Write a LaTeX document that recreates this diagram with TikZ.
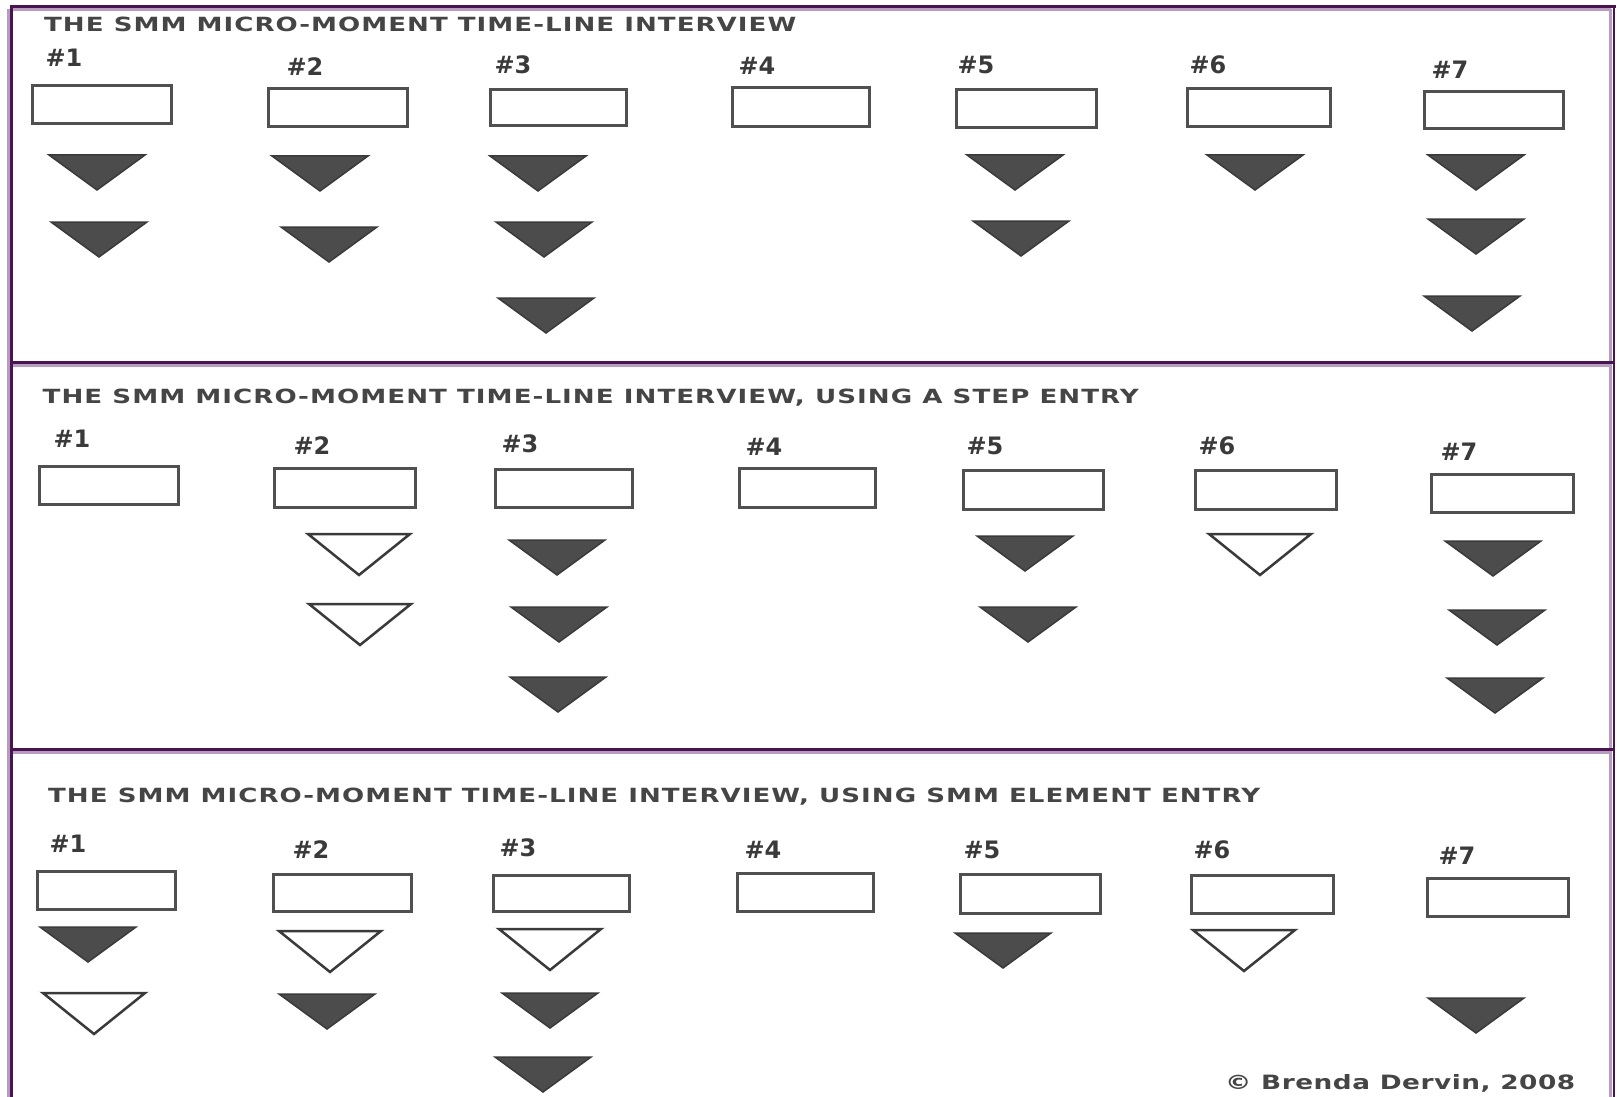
\documentclass[tikz,border=0pt]{standalone}
\usepackage{fontspec}
\usepackage{graphicx}
\setmainfont{DejaVu Sans}
\newfontfamily\titlef[LetterSpace=4]{DejaVu Sans Bold}
\newfontfamily\copyf[LetterSpace=2]{DejaVu Sans Bold}
\definecolor{framedark}{HTML}{4A1450}
\definecolor{framelight}{HTML}{B89CC0}
\definecolor{txtgray}{HTML}{3A3A3A}
\definecolor{ttlgray}{HTML}{454545}
\definecolor{boxgray}{HTML}{505050}
\definecolor{trifill}{HTML}{4C4C4C}
\definecolor{triline}{HTML}{3A3A3A}
\tikzset{
  bx/.style={draw=boxgray, line width=3pt, rectangle, inner sep=0pt, fill=white},
  lbl/.style={text=txtgray, inner sep=0pt, font=\bfseries\fontsize{24}{24}\selectfont},
  ttl/.style={text=ttlgray, inner sep=0pt, anchor=base west},
  ftri/.style={fill=trifill, draw=triline, line width=1.5pt, line join=miter},
  otri/.style={fill=white, draw=triline, line width=2.5pt, line join=miter},
  fdark/.style={draw=framedark, line width=2.8pt},
  flight/.style={draw=framelight, line width=2.5pt}
}
\newcommand\bx[5]{\node[bx, minimum width={(#4-#2-3)*1pt}, minimum height={(#5-#3-3)*1pt}] (#1) at ({(#2+#4)/2},{(#3+#5)/2}) {};}
\newcommand\lb[4]{\node[lbl] (#1) at (#2,#3) {\##4};}
\newcommand\ftri[2]{\filldraw[ftri] ({#1-48},{#2}) -- ({#1+48},{#2}) -- ({#1},{#2+35}) -- cycle;}
\newcommand\otri[2]{\filldraw[otri] ({#1-51},{#2}) -- ({#1+51},{#2}) -- ({#1},{#2+41}) -- cycle;}
\begin{document}
\begin{tikzpicture}[x=1pt,y=-1pt]
\fill[white] (0,0) rectangle (1617,1097);
\useasboundingbox (0,0) rectangle (1617,1097);
% frame
\draw[flight] (8.3,9) -- (8.3,1097);
\draw[flight] (11,9.3) -- (1611,9.3);
\draw[flight] (1610.5,9) -- (1610.5,1097);
\draw[flight] (11,365.5) -- (1611,365.5);
\draw[flight] (11,752.3) -- (1611,752.3);
\draw[fdark] (11.5,6.5) -- (11.5,1097);
\draw[fdark] (10,6.5) -- (1615.5,6.5);
\draw[fdark] (1614,6.5) -- (1614,1097);
\draw[fdark] (10,362.5) -- (1615,362.5);
\draw[fdark] (10,749.5) -- (1615,749.5);
% titles
\node[ttl] (t1) at (44,31.5) {\resizebox{752pt}{14.5pt}{\titlef THE SMM MICRO-MOMENT TIME-LINE INTERVIEW}};
\node[ttl] (t2) at (42.5,403.5) {\resizebox{1096pt}{14.5pt}{\titlef THE SMM MICRO-MOMENT TIME-LINE INTERVIEW, USING A STEP ENTRY}};
\node[ttl] (t3) at (48,802) {\resizebox{1212pt}{14.5pt}{\titlef THE SMM MICRO-MOMENT TIME-LINE INTERVIEW, USING SMM ELEMENT ENTRY}};
\node[ttl] (copy) at (1225,1089) {\resizebox{350pt}{15pt}{\copyf © Brenda Dervin, 2008}};
% panel 1
\lb{a1}{64}{58}{1} \lb{a2}{305}{67}{2} \lb{a3}{513}{65}{3} \lb{a4}{757}{66}{4}
\lb{a5}{976}{65}{5} \lb{a6}{1208}{65}{6} \lb{a7}{1450}{70}{7}
\bx{ab1}{31}{84}{173}{125} \bx{ab2}{267}{87}{409}{128} \bx{ab3}{489}{88}{628}{127}
\bx{ab4}{731}{86}{871}{128} \bx{ab5}{955}{88}{1098}{129} \bx{ab6}{1186}{87}{1332}{128}
\bx{ab7}{1423}{90}{1565}{130}
\ftri{97}{155} \ftri{99}{222}
\ftri{320}{156} \ftri{329}{227}
\ftri{538}{156} \ftri{544}{222} \ftri{546}{298}
\ftri{1015}{155} \ftri{1021}{221}
\ftri{1255}{155}
\ftri{1476}{155} \ftri{1476}{219} \ftri{1472}{296}
% panel 2
\lb{b1}{72}{439}{1} \lb{b2}{312}{446}{2} \lb{b3}{520}{444}{3} \lb{b4}{764}{447}{4}
\lb{b5}{985}{446}{5} \lb{b6}{1217}{446}{6} \lb{b7}{1459}{452}{7}
\bx{bb1}{38}{465}{180}{506} \bx{bb2}{273}{467}{417}{509} \bx{bb3}{494}{468}{634}{509}
\bx{bb4}{738}{467}{877}{509} \bx{bb5}{962}{469}{1105}{511} \bx{bb6}{1194}{469}{1338}{511}
\bx{bb7}{1430}{473}{1575}{514}
\otri{359}{534} \otri{360}{604}
\ftri{557}{540} \ftri{559}{607} \ftri{558}{677}
\ftri{1025}{536} \ftri{1028}{607}
\otri{1260}{534}
\ftri{1493}{541} \ftri{1497}{610} \ftri{1495}{678}
% panel 3
\lb{c1}{68}{844}{1} \lb{c2}{311}{850}{2} \lb{c3}{518}{848}{3} \lb{c4}{763}{850}{4}
\lb{c5}{982}{850}{5} \lb{c6}{1212}{850}{6} \lb{c7}{1457}{856}{7}
\bx{cb1}{36}{870}{177}{911} \bx{cb2}{272}{873}{413}{913} \bx{cb3}{492}{874}{631}{913}
\bx{cb4}{736}{872}{875}{913} \bx{cb5}{959}{873}{1102}{915} \bx{cb6}{1190}{874}{1335}{915}
\bx{cb7}{1426}{877}{1570}{918}
\ftri{88}{927} \otri{94}{993}
\otri{330}{931} \ftri{327}{994}
\otri{550}{929} \ftri{550}{993} \ftri{543}{1057}
\ftri{1003}{933}
\otri{1244}{930}
\ftri{1476}{998}
\end{tikzpicture}
\end{document}
